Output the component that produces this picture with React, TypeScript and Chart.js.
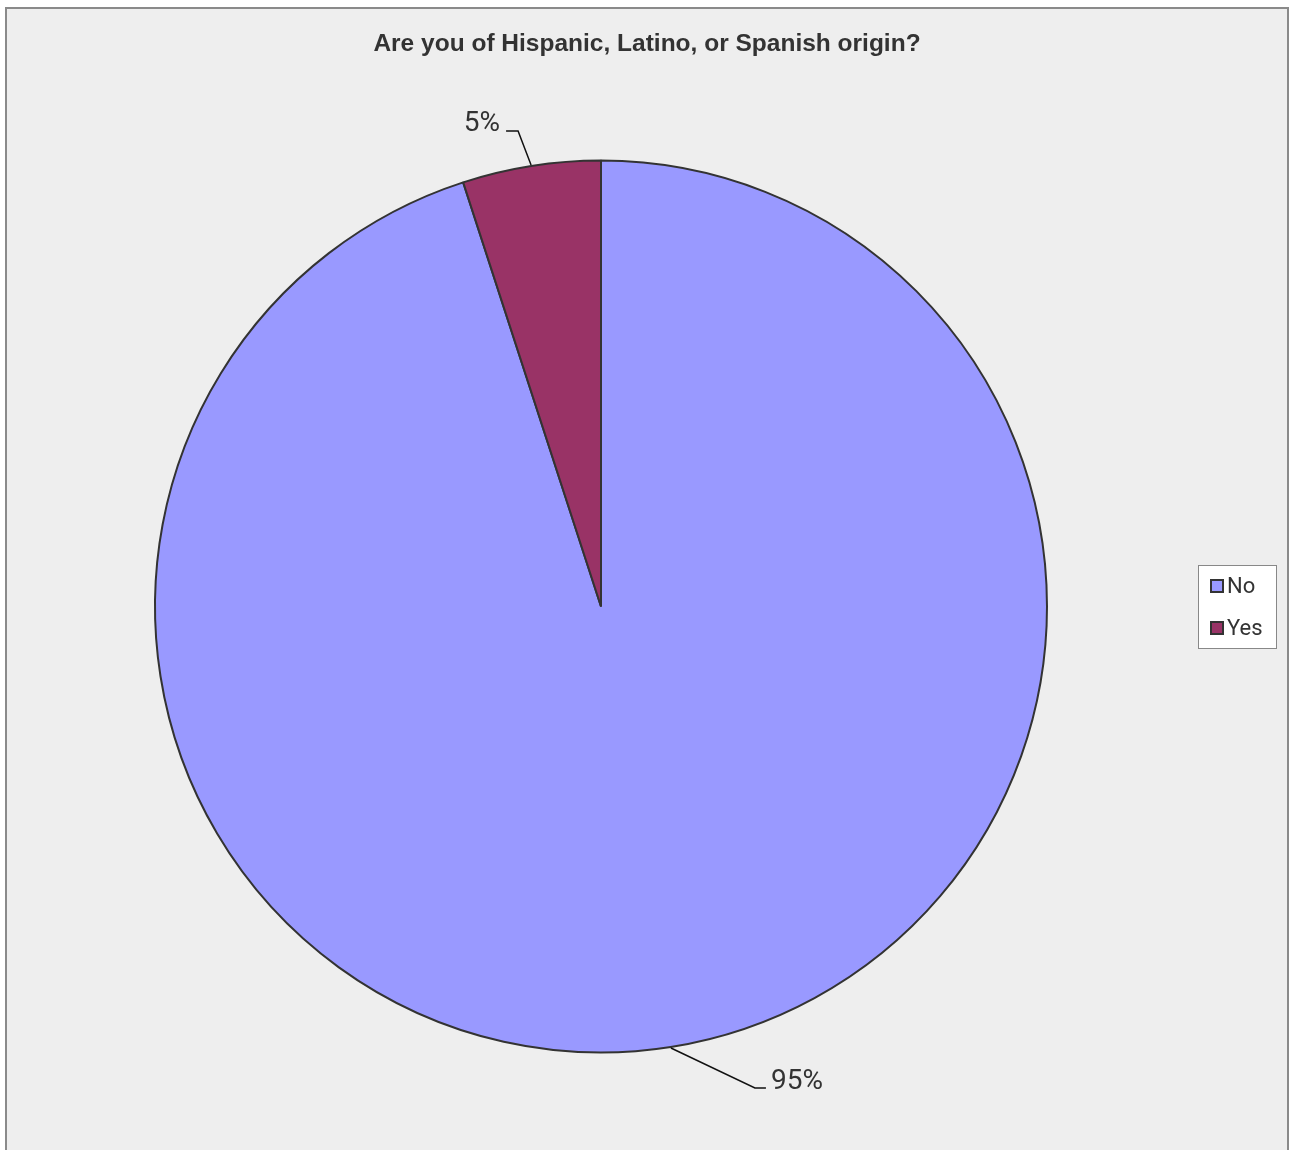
import React, { useEffect, useRef } from "react";
import { Chart, registerables } from "chart.js";

Chart.register(...registerables);

const TITLE = "Are you of Hispanic, Latino, or Spanish origin?";
const categories = ["No", "Yes"];
const values = [95, 5];
const sliceColors = ["#9999FF", "#993366"];

const W = 1290;
const H = 1150;

const framePlugin = {
  id: "frame",
  beforeDraw(chart: any) {
    const ctx = chart.ctx;
    ctx.save();
    ctx.fillStyle = "#ffffff";
    ctx.fillRect(0, 0, W, H);
    ctx.fillStyle = "#EEEEEE";
    ctx.fillRect(6, 8, 1282, H - 8);
    ctx.strokeStyle = "#8a8a8a";
    ctx.lineWidth = 2;
    ctx.beginPath();
    ctx.moveTo(6, H);
    ctx.lineTo(6, 8);
    ctx.lineTo(1288, 8);
    ctx.lineTo(1288, H);
    ctx.stroke();
    ctx.restore();
  },
};

// leader-line offsets per slice (styling only)
const leaderOffsets = [
  { dx: 84, dy: 40, hx: 11 },
  { dx: -13, dy: -34, hx: -12 },
];

const overlayPlugin = {
  id: "overlay",
  afterDraw(chart: any) {
    const ctx = chart.ctx;
    ctx.save();
    // title
    ctx.fillStyle = "#333333";
    ctx.font = "bold 24.5px 'Liberation Sans', Arial, sans-serif";
    ctx.textAlign = "center";
    ctx.textBaseline = "alphabetic";
    ctx.fillText(TITLE, 647, 51);

    // labels with leader lines
    const meta = chart.getDatasetMeta(0);
    const data = chart.data.datasets[0].data as number[];
    const total = data.reduce((a, b) => a + b, 0);
    meta.data.forEach((arc: any, i: number) => {
      const p = arc.getProps(["x", "y", "startAngle", "endAngle", "outerRadius"], true);
      const mid = (p.startAngle + p.endAngle) / 2;
      const r = p.outerRadius + 1;
      const ex = p.x + Math.cos(mid) * r;
      const ey = p.y + Math.sin(mid) * r;
      const off = leaderOffsets[i];
      const bx = ex + off.dx;
      const by = ey + off.dy;
      const cx = bx + off.hx;
      ctx.strokeStyle = "#111111";
      ctx.lineWidth = 1.5;
      ctx.beginPath();
      ctx.moveTo(ex, ey);
      ctx.lineTo(bx, by);
      ctx.lineTo(cx, by);
      ctx.stroke();
      const pct = Math.round((data[i] / total) * 100) + "%";
      ctx.fillStyle = "#333333";
      ctx.font = "28px Roboto";
      ctx.textBaseline = "alphabetic";
      if (off.hx < 0) {
        ctx.textAlign = "right";
        ctx.fillText(pct, cx - 6, by);
      } else {
        ctx.textAlign = "left";
        ctx.fillText(pct, cx + 5, by + 1);
      }
    });

    // legend
    const lx = 1198, ly = 565, lw = 78, lh = 83;
    ctx.fillStyle = "#ffffff";
    ctx.fillRect(lx, ly, lw, lh);
    ctx.strokeStyle = "#888888";
    ctx.lineWidth = 1;
    ctx.strokeRect(lx + 0.5, ly + 0.5, lw, lh);
    const labels = chart.data.labels as string[];
    const colors = chart.data.datasets[0].backgroundColor as string[];
    labels.forEach((lab: string, i: number) => {
      const base = 593 + i * 42;
      ctx.fillStyle = colors[i];
      ctx.fillRect(1211, base - 13, 12, 12);
      ctx.strokeStyle = "#333333";
      ctx.lineWidth = 2;
      ctx.strokeRect(1211, base - 13, 12, 12);
      ctx.fillStyle = "#333333";
      ctx.font = "22px Roboto";
      ctx.textAlign = "left";
      ctx.textBaseline = "alphabetic";
      ctx.fillText(lab, 1227, base);
    });
    ctx.restore();
  },
};

export default function App() {
  const ref = useRef<HTMLCanvasElement>(null);
  useEffect(() => {
    if (!ref.current) return;
    const chart = new Chart(ref.current, {
      type: "pie",
      data: {
        labels: categories,
        datasets: [
          {
            data: values,
            backgroundColor: sliceColors,
            borderColor: "#333333",
            borderWidth: 2,
          },
        ],
      },
      options: {
        responsive: false,
        animation: false,
        devicePixelRatio: 1,
        layout: { padding: { left: 154, right: 242, top: 159, bottom: 96 } },
        plugins: {
          legend: { display: false },
          title: { display: false },
          tooltip: { enabled: false },
        },
      },
      plugins: [framePlugin, overlayPlugin],
    });
    return () => chart.destroy();
  }, []);
  return (
    <div style={{ position: "absolute", left: 0, top: 0, width: W, height: H }}>
      <canvas ref={ref} width={W} height={H} style={{ width: W, height: H, display: "block" }} />
    </div>
  );
}
